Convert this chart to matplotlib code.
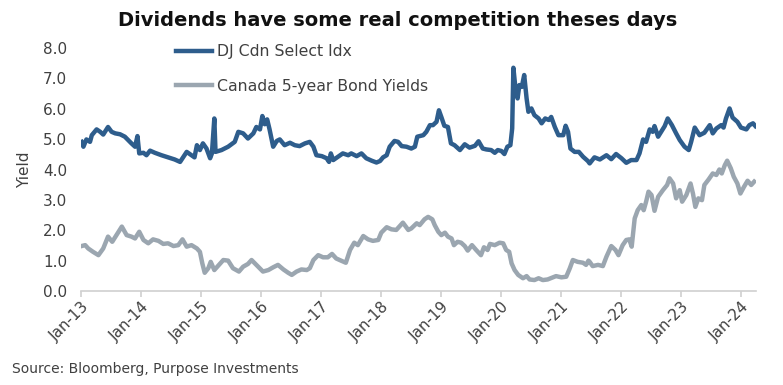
import numpy as np
import pandas as pd
import matplotlib
matplotlib.use('Agg')
import matplotlib.pyplot as plt
import matplotlib.dates as mdates

# dates as decimal years
dj_t = [2013.01, 2013.04, 2013.09, 2013.15, 2013.18, 2013.26, 2013.32, 2013.37, 2013.45, 2013.51,
        2013.57, 2013.65, 2013.73, 2013.84, 2013.90, 2013.94, 2013.97, 2014.04, 2014.09, 2014.15,
        2014.23, 2014.34, 2014.45, 2014.56, 2014.65, 2014.70, 2014.76, 2014.84, 2014.89, 2014.93,
        2014.98, 2015.03, 2015.09, 2015.15, 2015.18, 2015.22, 2015.24, 2015.34, 2015.45, 2015.56,
        2015.62, 2015.70, 2015.78, 2015.87, 2015.92, 2015.98, 2016.02, 2016.06, 2016.10, 2016.14,
        2016.20, 2016.26, 2016.31, 2016.39, 2016.48, 2016.56, 2016.64, 2016.73, 2016.81, 2016.87,
        2016.92, 2017.01, 2017.09, 2017.13, 2017.16, 2017.20, 2017.28, 2017.36, 2017.45, 2017.50,
        2017.59, 2017.67, 2017.75, 2017.84, 2017.92, 2017.98, 2018.03, 2018.09, 2018.14, 2018.22,
        2018.28, 2018.34, 2018.42, 2018.50, 2018.56, 2018.60, 2018.70, 2018.75, 2018.81, 2018.86,
        2018.92, 2018.96, 2019.00, 2019.05, 2019.11, 2019.16, 2019.22, 2019.31, 2019.39, 2019.47,
        2019.56, 2019.62, 2019.69, 2019.75, 2019.83, 2019.89, 2019.94, 2020.00, 2020.05, 2020.10,
        2020.15, 2020.18, 2020.20, 2020.24, 2020.27, 2020.30, 2020.34, 2020.38, 2020.42, 2020.45,
        2020.50, 2020.55, 2020.62, 2020.67, 2020.73, 2020.79, 2020.83, 2020.89, 2020.95, 2021.03,
        2021.07, 2021.11, 2021.15, 2021.22, 2021.29, 2021.36, 2021.44, 2021.47, 2021.55, 2021.64,
        2021.75, 2021.83, 2021.91, 2022.00, 2022.08, 2022.16, 2022.25, 2022.30, 2022.36, 2022.41,
        2022.47, 2022.52, 2022.55, 2022.61, 2022.67, 2022.72, 2022.77, 2022.84, 2022.91, 2022.97,
        2023.05, 2023.12, 2023.16, 2023.22, 2023.30, 2023.38, 2023.47, 2023.52, 2023.58, 2023.66,
        2023.70, 2023.74, 2023.80, 2023.85, 2023.93, 2023.99, 2024.08, 2024.13, 2024.19, 2024.23]
dj_yield = [4.91, 4.75, 4.99, 4.91, 5.13, 5.32, 5.24, 5.15, 5.40, 5.24,
            5.19, 5.16, 5.08, 4.86, 4.75, 5.10, 4.53, 4.55, 4.47, 4.62,
            4.55, 4.47, 4.40, 4.33, 4.25, 4.40, 4.58, 4.47, 4.40, 4.80,
            4.64, 4.86, 4.69, 4.37, 4.53, 5.68, 4.58, 4.64, 4.75, 4.91,
            5.24, 5.19, 5.02, 5.19, 5.40, 5.32, 5.76, 5.49, 5.65, 5.32,
            4.75, 4.94, 4.99, 4.80, 4.88, 4.80, 4.77, 4.86, 4.91, 4.75,
            4.47, 4.44, 4.37, 4.25, 4.53, 4.31, 4.42, 4.53, 4.47, 4.53,
            4.44, 4.53, 4.37, 4.29, 4.23, 4.28, 4.40, 4.47, 4.75, 4.94,
            4.91, 4.77, 4.75, 4.69, 4.75, 5.08, 5.13, 5.24, 5.46, 5.46,
            5.57, 5.95, 5.73, 5.44, 5.40, 4.86, 4.80, 4.64, 4.83, 4.72,
            4.78, 4.93, 4.69, 4.66, 4.64, 4.55, 4.64, 4.61, 4.51, 4.75,
            4.80, 5.35, 7.35, 6.56, 6.34, 6.78, 6.72, 7.11, 6.34, 5.90,
            6.01, 5.79, 5.68, 5.52, 5.68, 5.63, 5.73, 5.40, 5.13, 5.13,
            5.44, 5.24, 4.69, 4.58, 4.58, 4.42, 4.28, 4.20, 4.40, 4.33,
            4.47, 4.34, 4.51, 4.37, 4.22, 4.31, 4.31, 4.53, 4.99, 4.91,
            5.32, 5.24, 5.43, 5.08, 5.27, 5.43, 5.68, 5.46, 5.19, 4.97,
            4.75, 4.64, 4.91, 5.38, 5.13, 5.21, 5.46, 5.19, 5.35, 5.46,
            5.38, 5.68, 6.01, 5.71, 5.57, 5.38, 5.32, 5.46, 5.52, 5.43]

bond_t = [2013.01, 2013.07, 2013.12, 2013.20, 2013.29, 2013.37, 2013.45, 2013.52, 2013.59, 2013.68,
          2013.76, 2013.84, 2013.90, 2013.97, 2014.04, 2014.12, 2014.20, 2014.29, 2014.37, 2014.45,
          2014.54, 2014.62, 2014.69, 2014.76, 2014.84, 2014.93, 2014.98, 2015.02, 2015.06, 2015.12,
          2015.16, 2015.22, 2015.28, 2015.37, 2015.45, 2015.53, 2015.63, 2015.70, 2015.78, 2015.84,
          2015.92, 2016.03, 2016.12, 2016.20, 2016.28, 2016.37, 2016.45, 2016.51, 2016.59, 2016.67,
          2016.76, 2016.81, 2016.87, 2016.95, 2017.03, 2017.11, 2017.18, 2017.25, 2017.34, 2017.41,
          2017.48, 2017.55, 2017.61, 2017.70, 2017.78, 2017.86, 2017.95, 2018.00, 2018.09, 2018.17,
          2018.25, 2018.36, 2018.45, 2018.50, 2018.59, 2018.64, 2018.72, 2018.78, 2018.85, 2018.89,
          2018.95, 2019.00, 2019.06, 2019.11, 2019.17, 2019.21, 2019.27, 2019.33, 2019.39, 2019.44,
          2019.51, 2019.58, 2019.66, 2019.71, 2019.77, 2019.81, 2019.89, 2019.97, 2020.03, 2020.08,
          2020.13, 2020.17, 2020.22, 2020.28, 2020.36, 2020.42, 2020.47, 2020.55, 2020.62, 2020.69,
          2020.77, 2020.86, 2020.91, 2021.00, 2021.08, 2021.14, 2021.19, 2021.27, 2021.36, 2021.41,
          2021.45, 2021.47, 2021.52, 2021.61, 2021.69, 2021.75, 2021.83, 2021.90, 2021.95, 2022.02,
          2022.08, 2022.13, 2022.17, 2022.22, 2022.27, 2022.33, 2022.37, 2022.41, 2022.45, 2022.50,
          2022.55, 2022.61, 2022.69, 2022.76, 2022.80, 2022.86, 2022.91, 2022.97, 2023.01, 2023.08,
          2023.15, 2023.19, 2023.23, 2023.28, 2023.34, 2023.38, 2023.45, 2023.52, 2023.58, 2023.63,
          2023.67, 2023.72, 2023.76, 2023.82, 2023.87, 2023.93, 2023.98, 2024.04, 2024.10, 2024.16,
          2024.21]
bond_yield = [1.48, 1.51, 1.40, 1.29, 1.18, 1.40, 1.79, 1.62, 1.84, 2.12,
              1.84, 1.79, 1.73, 1.95, 1.68, 1.57, 1.70, 1.65, 1.55, 1.57,
              1.48, 1.51, 1.70, 1.46, 1.51, 1.40, 1.29, 0.91, 0.60, 0.75,
              0.96, 0.69, 0.82, 1.02, 1.00, 0.75, 0.64, 0.80, 0.89, 1.02,
              0.86, 0.64, 0.69, 0.78, 0.86, 0.71, 0.60, 0.53, 0.64, 0.71,
              0.69, 0.75, 1.02, 1.18, 1.11, 1.11, 1.22, 1.07, 0.99, 0.93,
              1.35, 1.59, 1.51, 1.81, 1.70, 1.65, 1.68, 1.92, 2.10, 2.03,
              2.01, 2.25, 2.01, 2.06, 2.23, 2.17, 2.36, 2.44, 2.36, 2.17,
              1.95, 1.84, 1.92, 1.79, 1.73, 1.51, 1.62, 1.59, 1.48, 1.33,
              1.51, 1.35, 1.18, 1.44, 1.35, 1.55, 1.51, 1.59, 1.57, 1.35,
              1.29, 0.91, 0.69, 0.53, 0.42, 0.49, 0.38, 0.36, 0.42, 0.36,
              0.38, 0.45, 0.49, 0.45, 0.47, 0.75, 1.02, 0.96, 0.93, 0.86,
              1.00, 0.96, 0.82, 0.86, 0.82, 1.13, 1.48, 1.35, 1.18, 1.51,
              1.68, 1.70, 1.46, 2.39, 2.66, 2.83, 2.66, 2.94, 3.27, 3.16,
              2.64, 3.10, 3.32, 3.49, 3.71, 3.54, 3.05, 3.32, 2.94, 3.16,
              3.54, 3.21, 2.77, 3.05, 2.99, 3.49, 3.67, 3.87, 3.82, 4.00,
              3.87, 4.14, 4.29, 4.04, 3.76, 3.54, 3.21, 3.43, 3.63, 3.49,
              3.60]


def to_dates(t):
    t = np.asarray(t)
    return pd.Timestamp('2013-01-01') + pd.to_timedelta((t - 2013) * 365.25, unit='D')


plt.rcParams['font.family'] = 'DejaVu Sans'
txt = '#404040'
blue = '#2E5D8C'
grey = '#9BA6B0'

fig = plt.figure(figsize=(7.83, 3.85), dpi=100)
ax = fig.add_axes([81/783, 94/385, 675/783, 243/385])

ax.plot(to_dates(dj_t), dj_yield, color=blue, lw=3.2, label='DJ Cdn Select Idx', solid_joinstyle='round')
ax.plot(to_dates(bond_t), bond_yield, color=grey, lw=3.2, label='Canada 5-year Bond Yields', solid_joinstyle='round')

ax.set_ylim(0, 8)
ax.set_yticks(np.arange(0, 9, 1))
ax.yaxis.set_major_formatter(matplotlib.ticker.FormatStrFormatter('%.1f'))
ax.set_xlim(pd.Timestamp('2013-01-01'), to_dates([2024.24])[0])
ax.xaxis.set_major_locator(mdates.YearLocator())
ax.xaxis.set_major_formatter(mdates.DateFormatter('%b-%y'))

for s in ['top', 'right', 'left']:
    ax.spines[s].set_visible(False)
ax.spines['bottom'].set_color('#d0d0d0')
ax.spines['bottom'].set_linewidth(1.2)
ax.tick_params(axis='y', length=0, labelsize=11, labelcolor=txt, pad=10)
ax.tick_params(axis='x', length=4, color='#d0d0d0', width=1.2, labelsize=11, labelcolor=txt, pad=2)
for lab in ax.get_xticklabels():
    lab.set_rotation(45)
    lab.set_ha('right')
    lab.set_va('top')
    lab.set_rotation_mode('anchor')

ax.set_ylabel('Yield', fontsize=11, color=txt, labelpad=8)

fig.legend(loc='upper left', bbox_to_anchor=(176/783, 1 - 44/385), frameon=False,
           fontsize=11.3, labelcolor=txt, handlelength=2.3, handletextpad=0.3,
           labelspacing=1.25, borderpad=0, borderaxespad=0)

fig.text(398/783, 1 - 20/385, 'Dividends have some real competition theses days',
         ha='center', va='center', fontsize=14, fontweight='bold', color='#111111')
fig.text(12/783, 1 - 369/385, 'Source: Bloomberg, Purpose Investments',
         ha='left', va='center', fontsize=10, color=txt)

fig.savefig('out.png', dpi=100)
